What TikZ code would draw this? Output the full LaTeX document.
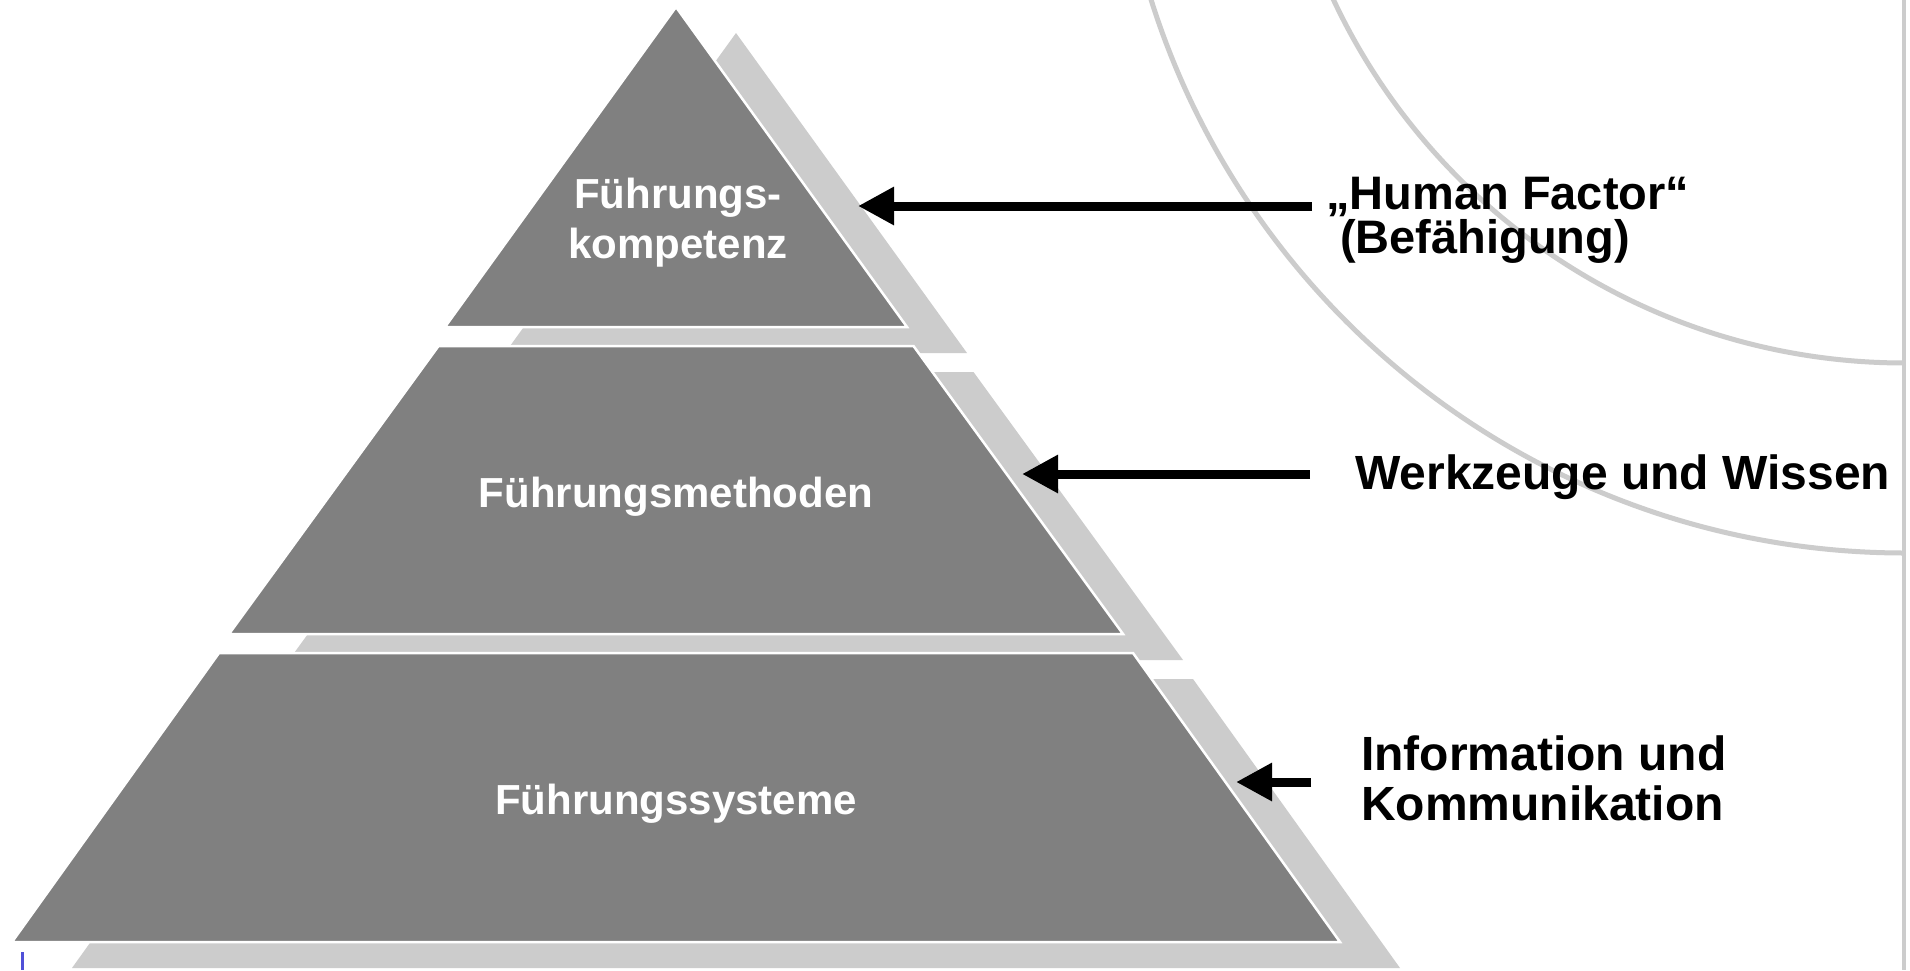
\documentclass[tikz,border=0pt]{standalone}
\usepackage{fontspec}
\setmainfont{Liberation Sans}
\usetikzlibrary{arrows.meta}
\definecolor{pyrgray}{HTML}{808080}
\definecolor{shadowgray}{HTML}{CCCCCC}
\definecolor{arcgray}{HTML}{CCCCCC}
\definecolor{markblue}{HTML}{5050D8}
\begin{document}
\begin{tikzpicture}[x=1pt,y=-1pt,
  layer/.style={fill=pyrgray,draw=white,line width=2.5pt,line join=miter},
  shadowlayer/.style={fill=shadowgray},
  innerlabel/.style={text=white,font=\bfseries\fontsize{42}{50}\selectfont,anchor=base,inner sep=0pt},
  sidelabel/.style={text=black,font=\bfseries\fontsize{47}{52}\selectfont,anchor=base west,inner sep=0pt},
  biglabel/.style={sidelabel,font=\bfseries\fontsize{48}{52}\selectfont},
  pointer/.style={line width=9pt,-{Triangle[length=36pt,width=36pt]}},
  ring/.style={draw=arcgray,line width=5pt}]
\useasboundingbox (0,0) rectangle (1910,970);
\clip (0,0) rectangle (1910,970);
\fill[white] (0,0) rectangle (1910,970);

% background rings and right rule
\begin{scope}
  \clip (0,0) rectangle (1904,970);
  \draw[ring] (1905,-268) circle[radius=631pt];
  \draw[ring] (1905,-237) circle[radius=790pt];
\end{scope}
\draw[arcgray,line width=4pt] (1904,0) -- (1904,970);

% shadows (offset 60,26)
\begin{scope}[shift={(60,26)}]
  \fill[shadowlayer] (676,7) -- (907,327) -- (445,327) -- cycle;
  \fill[shadowlayer] (438.5,346) -- (913.5,346) -- (1123,634) -- (229,634) -- cycle;
  \fill[shadowlayer] (219,653) -- (1133,653) -- (1340,942) -- (12,942) -- cycle;
\end{scope}

% pyramid layers
\draw[layer] (676,7) -- (907,327) -- (445,327) -- cycle;
\draw[layer] (438.5,346) -- (913.5,346) -- (1123,634) -- (229,634) -- cycle;
\draw[layer] (219,653) -- (1133,653) -- (1340,942) -- (12,942) -- cycle;

% pyramid labels
\node[innerlabel] (komp1) at (678,208) {Führungs-};
\node[innerlabel] (komp2) at (678,258) {kompetenz};
\node[innerlabel] (meth) at (676,507) {Führungsmethoden};
\node[innerlabel] (sys) at (676,814) {Führungssysteme};

% side labels
\node[sidelabel] (hf1) at (1326,209) {„Human Factor“};
\node[sidelabel] (hf2) at (1340,253) {(Befähigung)};
\node[biglabel] (wz) at (1355,489) {Werkzeuge und Wissen};
\node[biglabel] (ik1) at (1361,770) {Information und};
\node[biglabel] (ik2) at (1361,820) {Kommunikation};

% arrows
\coordinate (tip1) at (858,206);
\coordinate (tail1) at (1312,206);
\coordinate (tip2) at (1022,474);
\coordinate (tail2) at (1310,474);
\coordinate (tip3) at (1236,782);
\coordinate (tail3) at (1311,782);
\draw[pointer] (tail1) -- (tip1);
\draw[pointer] (tail2) -- (tip2);
\draw[pointer] (tail3) -- (tip3);

% small blue mark
\draw[markblue,line width=3pt] (22,952) -- (22,970);
\end{tikzpicture}
\end{document}
